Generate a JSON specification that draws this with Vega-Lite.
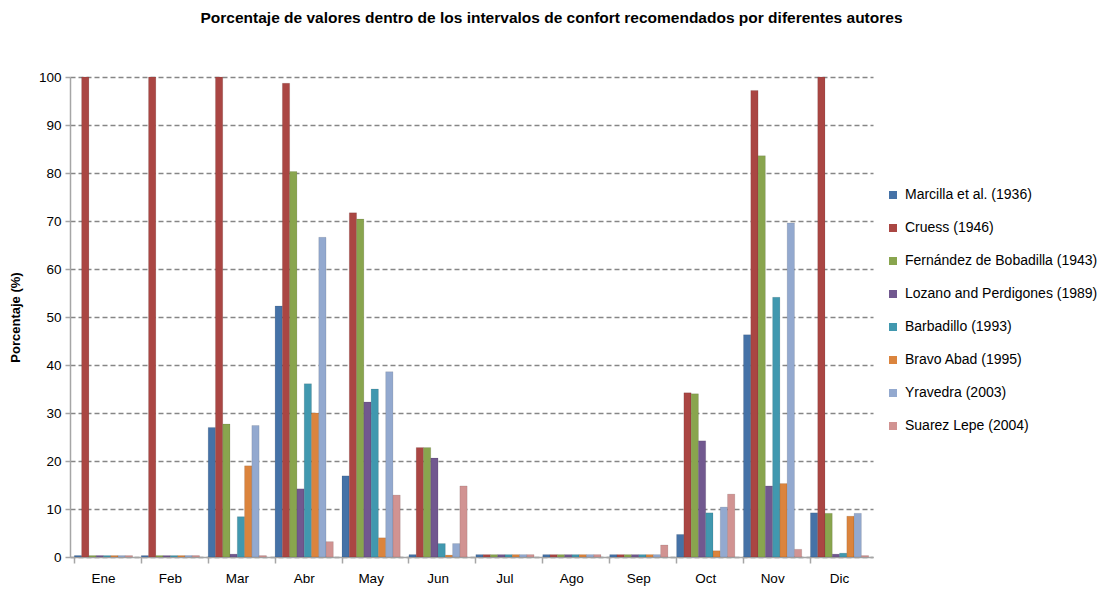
{
  "$schema": "https://vega.github.io/schema/vega-lite/v6.json",
  "width": 803,
  "height": 480,
  "autosize": "none",
  "padding": {"left": 70, "top": 77, "right": 228, "bottom": 32},
  "background": "white",
  "title": {
    "text": "Porcentaje de valores dentro de los intervalos de confort recomendados por diferentes autores",
    "font": "Liberation Sans",
    "fontSize": 15.5,
    "fontWeight": "bold",
    "color": "#000000",
    "anchor": "middle",
    "dx": 80,
    "offset": 44
  },
  "config": {
    "view": {"stroke": null},
    "font": "Liberation Sans"
  },
  "data": {
    "values": [
      {"mes": "Ene", "autor": "Marcilla et al. (1936)", "valor": 0.3},
      {"mes": "Ene", "autor": "Cruess (1946)", "valor": 100},
      {"mes": "Ene", "autor": "Fernández de Bobadilla (1943)", "valor": 0.3},
      {"mes": "Ene", "autor": "Lozano and Perdigones (1989)", "valor": 0.3},
      {"mes": "Ene", "autor": "Barbadillo (1993)", "valor": 0.3},
      {"mes": "Ene", "autor": "Bravo Abad  (1995)", "valor": 0.3},
      {"mes": "Ene", "autor": "Yravedra (2003)", "valor": 0.3},
      {"mes": "Ene", "autor": "Suarez Lepe (2004)", "valor": 0.3},
      {"mes": "Feb", "autor": "Marcilla et al. (1936)", "valor": 0.3},
      {"mes": "Feb", "autor": "Cruess (1946)", "valor": 100},
      {"mes": "Feb", "autor": "Fernández de Bobadilla (1943)", "valor": 0.3},
      {"mes": "Feb", "autor": "Lozano and Perdigones (1989)", "valor": 0.3},
      {"mes": "Feb", "autor": "Barbadillo (1993)", "valor": 0.3},
      {"mes": "Feb", "autor": "Bravo Abad  (1995)", "valor": 0.3},
      {"mes": "Feb", "autor": "Yravedra (2003)", "valor": 0.3},
      {"mes": "Feb", "autor": "Suarez Lepe (2004)", "valor": 0.3},
      {"mes": "Mar", "autor": "Marcilla et al. (1936)", "valor": 27},
      {"mes": "Mar", "autor": "Cruess (1946)", "valor": 100},
      {"mes": "Mar", "autor": "Fernández de Bobadilla (1943)", "valor": 27.7},
      {"mes": "Mar", "autor": "Lozano and Perdigones (1989)", "valor": 0.6},
      {"mes": "Mar", "autor": "Barbadillo (1993)", "valor": 8.4},
      {"mes": "Mar", "autor": "Bravo Abad  (1995)", "valor": 19},
      {"mes": "Mar", "autor": "Yravedra (2003)", "valor": 27.4},
      {"mes": "Mar", "autor": "Suarez Lepe (2004)", "valor": 0.3},
      {"mes": "Abr", "autor": "Marcilla et al. (1936)", "valor": 52.3},
      {"mes": "Abr", "autor": "Cruess (1946)", "valor": 98.7},
      {"mes": "Abr", "autor": "Fernández de Bobadilla (1943)", "valor": 80.3},
      {"mes": "Abr", "autor": "Lozano and Perdigones (1989)", "valor": 14.2},
      {"mes": "Abr", "autor": "Barbadillo (1993)", "valor": 36.1},
      {"mes": "Abr", "autor": "Bravo Abad  (1995)", "valor": 30},
      {"mes": "Abr", "autor": "Yravedra (2003)", "valor": 66.6},
      {"mes": "Abr", "autor": "Suarez Lepe (2004)", "valor": 3.2},
      {"mes": "May", "autor": "Marcilla et al. (1936)", "valor": 16.9},
      {"mes": "May", "autor": "Cruess (1946)", "valor": 71.7},
      {"mes": "May", "autor": "Fernández de Bobadilla (1943)", "valor": 70.4},
      {"mes": "May", "autor": "Lozano and Perdigones (1989)", "valor": 32.3},
      {"mes": "May", "autor": "Barbadillo (1993)", "valor": 35},
      {"mes": "May", "autor": "Bravo Abad  (1995)", "valor": 4},
      {"mes": "May", "autor": "Yravedra (2003)", "valor": 38.6},
      {"mes": "May", "autor": "Suarez Lepe (2004)", "valor": 12.9},
      {"mes": "Jun", "autor": "Marcilla et al. (1936)", "valor": 0.5},
      {"mes": "Jun", "autor": "Cruess (1946)", "valor": 22.8},
      {"mes": "Jun", "autor": "Fernández de Bobadilla (1943)", "valor": 22.8},
      {"mes": "Jun", "autor": "Lozano and Perdigones (1989)", "valor": 20.6},
      {"mes": "Jun", "autor": "Barbadillo (1993)", "valor": 2.8},
      {"mes": "Jun", "autor": "Bravo Abad  (1995)", "valor": 0.4},
      {"mes": "Jun", "autor": "Yravedra (2003)", "valor": 2.8},
      {"mes": "Jun", "autor": "Suarez Lepe (2004)", "valor": 14.8},
      {"mes": "Jul", "autor": "Marcilla et al. (1936)", "valor": 0.5},
      {"mes": "Jul", "autor": "Cruess (1946)", "valor": 0.5},
      {"mes": "Jul", "autor": "Fernández de Bobadilla (1943)", "valor": 0.5},
      {"mes": "Jul", "autor": "Lozano and Perdigones (1989)", "valor": 0.5},
      {"mes": "Jul", "autor": "Barbadillo (1993)", "valor": 0.5},
      {"mes": "Jul", "autor": "Bravo Abad  (1995)", "valor": 0.5},
      {"mes": "Jul", "autor": "Yravedra (2003)", "valor": 0.5},
      {"mes": "Jul", "autor": "Suarez Lepe (2004)", "valor": 0.5},
      {"mes": "Ago", "autor": "Marcilla et al. (1936)", "valor": 0.5},
      {"mes": "Ago", "autor": "Cruess (1946)", "valor": 0.5},
      {"mes": "Ago", "autor": "Fernández de Bobadilla (1943)", "valor": 0.5},
      {"mes": "Ago", "autor": "Lozano and Perdigones (1989)", "valor": 0.5},
      {"mes": "Ago", "autor": "Barbadillo (1993)", "valor": 0.5},
      {"mes": "Ago", "autor": "Bravo Abad  (1995)", "valor": 0.5},
      {"mes": "Ago", "autor": "Yravedra (2003)", "valor": 0.5},
      {"mes": "Ago", "autor": "Suarez Lepe (2004)", "valor": 0.5},
      {"mes": "Sep", "autor": "Marcilla et al. (1936)", "valor": 0.5},
      {"mes": "Sep", "autor": "Cruess (1946)", "valor": 0.5},
      {"mes": "Sep", "autor": "Fernández de Bobadilla (1943)", "valor": 0.5},
      {"mes": "Sep", "autor": "Lozano and Perdigones (1989)", "valor": 0.5},
      {"mes": "Sep", "autor": "Barbadillo (1993)", "valor": 0.5},
      {"mes": "Sep", "autor": "Bravo Abad  (1995)", "valor": 0.5},
      {"mes": "Sep", "autor": "Yravedra (2003)", "valor": 0.5},
      {"mes": "Sep", "autor": "Suarez Lepe (2004)", "valor": 2.5},
      {"mes": "Oct", "autor": "Marcilla et al. (1936)", "valor": 4.7},
      {"mes": "Oct", "autor": "Cruess (1946)", "valor": 34.2},
      {"mes": "Oct", "autor": "Fernández de Bobadilla (1943)", "valor": 34},
      {"mes": "Oct", "autor": "Lozano and Perdigones (1989)", "valor": 24.2},
      {"mes": "Oct", "autor": "Barbadillo (1993)", "valor": 9.2},
      {"mes": "Oct", "autor": "Bravo Abad  (1995)", "valor": 1.3},
      {"mes": "Oct", "autor": "Yravedra (2003)", "valor": 10.4},
      {"mes": "Oct", "autor": "Suarez Lepe (2004)", "valor": 13.1},
      {"mes": "Nov", "autor": "Marcilla et al. (1936)", "valor": 46.3},
      {"mes": "Nov", "autor": "Cruess (1946)", "valor": 97.2},
      {"mes": "Nov", "autor": "Fernández de Bobadilla (1943)", "valor": 83.6},
      {"mes": "Nov", "autor": "Lozano and Perdigones (1989)", "valor": 14.8},
      {"mes": "Nov", "autor": "Barbadillo (1993)", "valor": 54.1},
      {"mes": "Nov", "autor": "Bravo Abad  (1995)", "valor": 15.3},
      {"mes": "Nov", "autor": "Yravedra (2003)", "valor": 69.6},
      {"mes": "Nov", "autor": "Suarez Lepe (2004)", "valor": 1.6},
      {"mes": "Dic", "autor": "Marcilla et al. (1936)", "valor": 9.2},
      {"mes": "Dic", "autor": "Cruess (1946)", "valor": 100},
      {"mes": "Dic", "autor": "Fernández de Bobadilla (1943)", "valor": 9.1},
      {"mes": "Dic", "autor": "Lozano and Perdigones (1989)", "valor": 0.6},
      {"mes": "Dic", "autor": "Barbadillo (1993)", "valor": 0.8},
      {"mes": "Dic", "autor": "Bravo Abad  (1995)", "valor": 8.5},
      {"mes": "Dic", "autor": "Yravedra (2003)", "valor": 9.1},
      {"mes": "Dic", "autor": "Suarez Lepe (2004)", "valor": 0.3}
    ]
  },
  "mark": {"type": "bar", "stroke": "#00000033", "strokeWidth": 0.5},
  "encoding": {
    "x": {
      "field": "mes",
      "type": "nominal",
      "sort": ["Ene", "Feb", "Mar", "Abr", "May", "Jun", "Jul", "Ago", "Sep", "Oct", "Nov", "Dic"],
      "scale": {"paddingInner": 0.13, "paddingOuter": 0.065},
      "axis": {
        "title": null,
        "labelAngle": 0,
        "labelFontSize": 13.5,
        "labelColor": "#000000",
        "labelPadding": 8,
        "ticks": true,
        "bandPosition": 0,
        "tickSize": 6,
        "tickColor": "#a6a6a6",
        "tickWidth": 1.5,
        "domainColor": "#a6a6a6",
        "domainWidth": 1.5
      }
    },
    "xOffset": {
      "field": "autor",
      "type": "nominal",
      "sort": null,
      "scale": {"paddingInner": 0}
    },
    "y": {
      "field": "valor",
      "type": "quantitative",
      "scale": {"domain": [0, 100], "nice": false},
      "axis": {
        "title": "Porcentaje (%)",
        "titleFontSize": 13,
        "titleFontWeight": "bold",
        "titleColor": "#000000",
        "titlePadding": 16,
        "values": [0, 10, 20, 30, 40, 50, 60, 70, 80, 90, 100],
        "labelFontSize": 13.5,
        "labelColor": "#000000",
        "labelPadding": 4,
        "tickSize": 5,
        "tickColor": "#a6a6a6",
        "tickWidth": 1.5,
        "domainColor": "#a6a6a6",
        "domainWidth": 1.5,
        "grid": true,
        "gridColor": "#868686",
        "gridDash": [5, 3],
        "gridWidth": 1.5
      }
    },
    "color": {
      "field": "autor",
      "type": "nominal",
      "sort": null,
      "scale": {
        "domain": ["Marcilla et al. (1936)", "Cruess (1946)", "Fernández de Bobadilla (1943)", "Lozano and Perdigones (1989)", "Barbadillo (1993)", "Bravo Abad  (1995)", "Yravedra (2003)", "Suarez Lepe (2004)"],
        "range": ["#4572a7", "#aa4643", "#89a54e", "#71588f", "#4198af", "#db843d", "#93a9cf", "#d19392"]
      },
      "legend": {
        "title": null,
        "orient": "none",
        "legendX": 816,
        "legendY": 111,
        "labelFontSize": 14,
        "labelLimit": 0,
        "labelColor": "#000000",
        "symbolType": "square",
        "symbolSize": 64,
        "symbolStrokeWidth": 0,
        "rowPadding": 19,
        "labelOffset": 5
      }
    }
  }
}
